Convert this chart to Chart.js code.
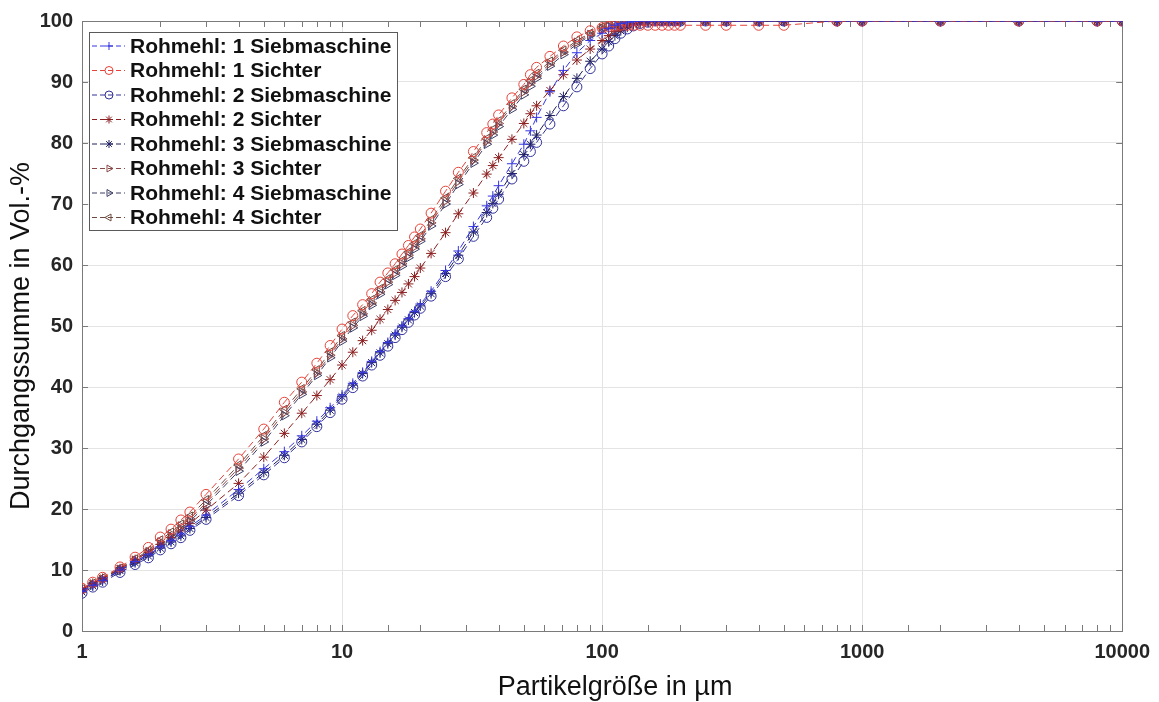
<!DOCTYPE html>
<html>
<head>
<meta charset="utf-8">
<script src="https://cdn.jsdelivr.net/npm/chart.js@4.4.0/dist/chart.umd.min.js"></script>
<style>
  html, body { margin: 0; padding: 0; background: #fff; }
  #wrap { width: 1159px; height: 702px; }
</style>
</head>
<body>
<div id="wrap"><canvas id="psdChart" width="1159" height="702"></canvas></div>
<script>
// Partikelgrößen (µm) der Messpunkte
const particleSize = [1, 1.1, 1.2, 1.4, 1.6, 1.8, 2, 2.2, 2.4, 2.6, 3, 4, 5, 6, 7, 8, 9, 10,
  11, 12, 13, 14, 15, 16, 17, 18, 19, 20, 22, 25, 28, 32, 36, 38, 40, 45, 50, 53, 56, 63, 71,
  80, 90, 100, 106, 112, 118, 125, 132, 140, 150, 160, 170, 180, 190, 200, 250, 300, 400, 500,
  800, 1000, 2000, 4000, 8000, 10000];

// Durchgangssumme in Vol.-% je Probe
const rm1Sieb = [6.5, 7.5, 8.3, 10.0, 11.4, 12.5, 13.8, 14.8, 15.9, 17.1, 19.0, 23.2, 26.6, 29.4,
  32.0, 34.4, 36.6, 38.7, 40.6, 42.4, 44.2, 45.8, 47.3, 48.7, 50.0, 51.2, 52.4, 53.6, 55.7, 59.1,
  62.3, 66.3, 69.7, 71.3, 73.0, 76.6, 79.8, 82.0, 84.2, 88.4, 91.9, 94.8, 96.8, 98.0, 98.8, 99.3,
  99.6, 99.8, 99.9, 100, 100, 100, 100, 100, 100, 100, 100, 100, 100, 100, 100, 100, 100, 100, 100, 100];
const rm1Sichter = [7.0, 8.0, 8.8, 10.5, 12.1, 13.7, 15.4, 16.7, 18.2, 19.5, 22.4, 28.2, 33.1, 37.5,
  40.8, 43.9, 46.8, 49.5, 51.7, 53.5, 55.3, 57.2, 58.7, 60.2, 61.8, 63.2, 64.6, 65.9, 68.5, 72.1,
  75.2, 78.6, 81.7, 83.1, 84.6, 87.4, 89.6, 91.2, 92.4, 94.2, 95.9, 97.4, 98.4, 98.9, 99.1, 99.2,
  99.3, 99.3, 99.3, 99.3, 99.3, 99.3, 99.3, 99.3, 99.3, 99.3, 99.3, 99.3, 99.3, 99.3, 100, 100, 100, 100, 100, 100];
const rm2Sieb = [6.2, 7.2, 8.0, 9.6, 10.9, 12.0, 13.3, 14.3, 15.3, 16.5, 18.3, 22.2, 25.6, 28.4,
  31.0, 33.5, 35.8, 38.0, 39.9, 41.8, 43.6, 45.2, 46.7, 48.1, 49.4, 50.6, 51.8, 52.9, 54.9, 58.1,
  61.0, 64.7, 67.8, 69.3, 70.8, 74.1, 77.0, 78.6, 80.1, 83.1, 86.1, 89.2, 92.2, 94.6, 95.9, 97.1,
  98.0, 98.7, 99.2, 99.6, 99.8, 100, 100, 100, 100, 100, 100, 100, 100, 100, 100, 100, 100, 100, 100, 100];
const rm2Sichter = [6.8, 7.8, 8.6, 10.2, 11.7, 12.9, 14.2, 15.3, 16.4, 17.6, 19.8, 24.2, 28.5, 32.4,
  35.7, 38.6, 41.2, 43.6, 45.7, 47.6, 49.3, 51.1, 52.7, 54.2, 55.5, 56.9, 58.1, 59.5, 61.9, 65.3,
  68.4, 71.8, 74.9, 76.3, 77.6, 80.6, 83.2, 84.8, 86.1, 88.6, 91.2, 93.6, 95.4, 96.8, 97.6, 98.3,
  98.8, 99.2, 99.5, 99.7, 99.9, 100, 100, 100, 100, 100, 100, 100, 100, 100, 100, 100, 100, 100, 100, 100];
const rm3Sieb = [6.4, 7.4, 8.2, 9.9, 11.2, 12.3, 13.6, 14.6, 15.6, 16.8, 18.6, 22.6, 26.0, 28.8,
  31.4, 33.9, 36.2, 38.4, 40.3, 42.2, 44.0, 45.6, 47.1, 48.5, 49.8, 51.0, 52.2, 53.3, 55.3, 58.6,
  61.6, 65.4, 68.6, 70.1, 71.6, 75.0, 78.1, 79.8, 81.3, 84.5, 87.6, 90.6, 93.4, 95.4, 96.6, 97.6,
  98.4, 99.0, 99.4, 99.7, 99.9, 100, 100, 100, 100, 100, 100, 100, 100, 100, 100, 100, 100, 100, 100, 100];
const rm3Sichter = [6.8, 7.7, 8.5, 10.1, 11.6, 13.0, 14.6, 15.9, 17.2, 18.4, 21.0, 26.7, 31.5, 35.8,
  39.2, 42.3, 45.2, 47.9, 50.1, 52.0, 53.8, 55.6, 57.2, 58.7, 60.2, 61.6, 63.0, 64.3, 66.9, 70.5,
  73.7, 77.2, 80.3, 81.8, 83.2, 86.0, 88.4, 89.8, 91.0, 93.0, 94.9, 96.5, 97.8, 98.8, 99.2, 99.5,
  99.7, 99.9, 100, 100, 100, 100, 100, 100, 100, 100, 100, 100, 100, 100, 100, 100, 100, 100, 100, 100];
const rm4Sieb = [6.6, 7.5, 8.3, 9.9, 11.3, 12.7, 14.2, 15.5, 16.8, 18.0, 20.6, 26.2, 31.0, 35.3,
  38.8, 41.9, 44.8, 47.5, 49.7, 51.6, 53.4, 55.2, 56.8, 58.3, 59.8, 61.2, 62.6, 63.9, 66.4, 70.0,
  73.2, 76.7, 79.8, 81.3, 82.7, 85.5, 87.9, 89.3, 90.6, 92.6, 94.5, 96.2, 97.6, 98.6, 99.1, 99.4,
  99.6, 99.8, 99.9, 100, 100, 100, 100, 100, 100, 100, 100, 100, 100, 100, 100, 100, 100, 100, 100, 100];
const rm4Sichter = [6.9, 7.8, 8.7, 10.3, 11.8, 13.2, 14.9, 16.2, 17.5, 18.8, 21.5, 27.2, 32.0, 36.3,
  39.7, 42.8, 45.7, 48.4, 50.6, 52.5, 54.3, 56.1, 57.7, 59.2, 60.7, 62.1, 63.5, 64.8, 67.4, 71.0,
  74.2, 77.6, 80.7, 82.2, 83.6, 86.4, 88.8, 90.2, 91.4, 93.4, 95.2, 96.8, 98.0, 99.0, 99.3, 99.6,
  99.8, 99.9, 100, 100, 100, 100, 100, 100, 100, 100, 100, 100, 100, 100, 100, 100, 100, 100, 100, 100];

const seriesNames = ['Rohmehl: 1 Siebmaschine', 'Rohmehl: 1 Sichter', 'Rohmehl: 2 Siebmaschine',
  'Rohmehl: 2 Sichter', 'Rohmehl: 3 Siebmaschine', 'Rohmehl: 3 Sichter',
  'Rohmehl: 4 Siebmaschine', 'Rohmehl: 4 Sichter'];
const seriesValues = [rm1Sieb, rm1Sichter, rm2Sieb, rm2Sichter, rm3Sieb, rm3Sichter, rm4Sieb, rm4Sichter];
const seriesColors = ['#3535e0', '#e5433a', '#30309a', '#8c2020', '#1e1e5e', '#8a4848', '#3e3e66', '#6e4a40'];
const seriesMarkers = ['cross', 'circle', 'circle', 'star', 'star', 'triangle', 'triangle', 'triangle'];
const markerRotation = [0, 0, 0, 0, 0, 90, 90, -90];

const yTicks = [0, 10, 20, 30, 40, 50, 60, 70, 80, 90, 100];
const xTickLabels = [1, 10, 100, 1000, 10000];
const xTitle = 'Partikelgröße in µm';
const yTitle = 'Durchgangssumme in Vol.-%';

const FONT = '"Liberation Sans", Arial, Helvetica, sans-serif';
const AXIS_COLOR = '#7a7a7a';
const GRID_COLOR = '#e4e4e4';

function isDecade(v) {
  const l = Math.log10(v);
  return Math.abs(l - Math.round(l)) < 1e-9;
}

const datasets = seriesNames.map((name, i) => ({
  label: name,
  data: particleSize.map((x, k) => ({ x: x, y: seriesValues[i][k] })),
  borderColor: seriesColors[i],
  backgroundColor: 'rgba(0,0,0,0)',
  borderWidth: 1,
  borderDash: [7, 4],
  pointStyle: seriesMarkers[i],
  rotation: markerRotation[i],
  pointRadius: 5,
  pointBorderWidth: 1,
  pointBorderColor: seriesColors[i],
  pointBackgroundColor: 'rgba(0,0,0,0)',
  fill: false,
  tension: 0
}));

// Rahmen und kleine Teilstriche wie in MATLAB (box on)
const frameTicks = {
  id: 'frameTicks',
  beforeDatasetsDraw(chart) {
    const { ctx, chartArea: a, scales } = chart;
    ctx.save();
    ctx.strokeStyle = AXIS_COLOR;
    ctx.lineWidth = 1;
    ctx.beginPath();
    scales.x.ticks.forEach(t => {
      const px = Math.round(scales.x.getPixelForValue(t.value)) + 0.5;
      ctx.moveTo(px, a.bottom); ctx.lineTo(px, a.bottom - 6);
      ctx.moveTo(px, a.top); ctx.lineTo(px, a.top + 6);
    });
    yTicks.forEach(v => {
      const py = Math.round(scales.y.getPixelForValue(v)) + 0.5;
      ctx.moveTo(a.left, py); ctx.lineTo(a.left + 6, py);
      ctx.moveTo(a.right, py); ctx.lineTo(a.right - 6, py);
    });
    ctx.stroke();
    ctx.strokeRect(Math.round(a.left) + 0.5, Math.round(a.top) + 0.5,
      Math.round(a.right - a.left), Math.round(a.bottom - a.top));
    ctx.restore();
  },
  afterDraw(chart) {
    // Achsentitel (leicht versetzt wie im Original)
    const { ctx, chartArea: a } = chart;
    ctx.save();
    ctx.fillStyle = '#111';
    ctx.font = '27px ' + FONT;
    ctx.textAlign = 'center';
    ctx.textBaseline = 'middle';
    ctx.fillText(xTitle, (a.left + a.right) / 2 + 13, 688);
    ctx.translate(22, (a.top + a.bottom) / 2 + 10);
    ctx.rotate(-Math.PI / 2);
    ctx.fillText(yTitle, 0, 0);
    ctx.restore();
  }
};

// Legende oben links innerhalb der Achsen
const innerLegend = {
  id: 'innerLegend',
  afterDraw(chart) {
    const { ctx, chartArea: a } = chart;
    const left = a.left + 7, top = a.top + 11;
    const w = 308, rowH = 24.5, h = rowH * seriesNames.length + 2;
    ctx.save();
    ctx.fillStyle = '#fff';
    ctx.fillRect(left, top, w, h);
    ctx.strokeStyle = '#5a5a5a';
    ctx.lineWidth = 1;
    ctx.strokeRect(left + 0.5, top + 0.5, w, h);
    ctx.font = 'bold 21px ' + FONT;
    ctx.textBaseline = 'middle';
    chart.data.datasets.forEach((ds, i) => {
      const y = top + 14 + i * rowH;
      ctx.strokeStyle = ds.borderColor;
      ctx.setLineDash([5, 3]);
      ctx.beginPath();
      ctx.moveTo(left + 3, y); ctx.lineTo(left + 36, y);
      ctx.stroke();
      ctx.setLineDash([]);
      ctx.fillStyle = 'rgba(0,0,0,0)';
      Chart.helpers.drawPoint(ctx, {
        pointStyle: ds.pointStyle, rotation: ds.rotation, radius: 4, borderWidth: 1
      }, left + 20, y);
      ctx.fillStyle = '#111';
      ctx.fillText(ds.label, left + 41, y + 1);
    });
    ctx.restore();
  }
};

new Chart(document.getElementById('psdChart'), {
  type: 'line',
  data: { datasets: datasets },
  options: {
    responsive: false,
    animation: false,
    layout: { padding: { top: 20, right: 34, left: 0, bottom: 0 } },
    plugins: { legend: { display: false }, tooltip: { enabled: false } },
    scales: {
      x: {
        type: 'logarithmic',
        min: 1,
        max: 10000,
        afterFit(scale) { scale.height = 71; },
        border: { display: false },
        grid: {
          drawTicks: false,
          color: ctx => (ctx.tick && isDecade(ctx.tick.value)) ? GRID_COLOR : 'rgba(0,0,0,0)'
        },
        ticks: {
          autoSkip: false,
          maxRotation: 0,
          padding: 9,
          color: '#262626',
          font: { family: FONT, size: 20, weight: 'bold' },
          callback: v => xTickLabels.includes(v) ? String(v) : ''
        }
      },
      y: {
        min: 0,
        max: 100,
        afterFit(scale) { scale.width = 82; },
        border: { display: false },
        grid: { drawTicks: false, color: GRID_COLOR },
        ticks: {
          stepSize: 10,
          padding: 9,
          color: '#262626',
          font: { family: FONT, size: 20, weight: 'bold' }
        }
      }
    }
  },
  plugins: [frameTicks, innerLegend]
});
</script>
</body>
</html>
